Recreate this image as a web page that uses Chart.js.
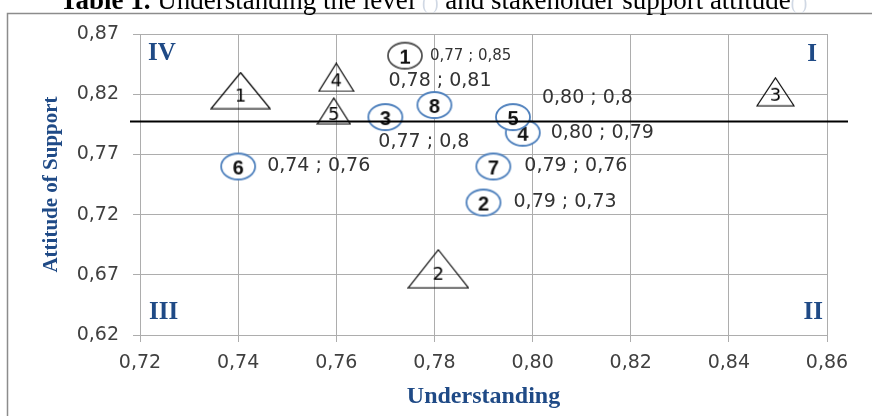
<!DOCTYPE html>
<html>
<head>
<meta charset="utf-8">
<script src="https://cdn.jsdelivr.net/npm/chart.js"></script>
<style>
body { margin: 0; background: #fff; }
#wrap { position: relative; width: 872px; height: 416px; }
</style>
</head>
<body>
<div id="wrap"><canvas id="chart1"></canvas></div>
<script>
// axis ticks
const xTickLabels = ['0,72', '0,74', '0,76', '0,78', '0,80', '0,82', '0,84', '0,86'];
const yTickLabels = ['0,62', '0,67', '0,72', '0,77', '0,82', '0,87'];

// circles (numbered 1..8)
const circleNums = ['1', '2', '3', '4', '5', '6', '7', '8'];
const circleX = [0.774, 0.790, 0.770, 0.798, 0.796, 0.740, 0.792, 0.780];
const circleY = [0.852, 0.730, 0.801, 0.788, 0.801, 0.760, 0.760, 0.811];
const circleLabels = ['0,77 ; 0,85', '0,79 ; 0,73', '0,77 ; 0,8', '0,80 ; 0,79', '0,80 ; 0,8', '0,74 ; 0,76', '0,79 ; 0,76', '0,78 ; 0,81'];

// triangles (numbered 1..5)
const triNums = ['1', '2', '3', '4', '5'];
const triX = [0.7405, 0.7808, 0.8495, 0.760, 0.7595];
const triY = [0.823, 0.675, 0.822, 0.834, 0.806];

// dividing line + quadrants
const threshold = 0.798;
const quadrants = ['I', 'II', 'III', 'IV'];

// styling (kept apart from the data)
const navy = '#1f4a86';
const triSizes = [[59, 36], [60, 38], [37, 28], [35, 28], [33, 26]];
const circleColors = ['#555555', '#4f81bd', '#4f81bd', '#4f81bd', '#4f81bd', '#4f81bd', '#4f81bd', '#4f81bd'];
const labelOffsets = [[25, 0], [30, 0], [-7, 25], [28, 0], [29, -19], [29, 0], [31, 0], [-46, -24]];
const labelSizes = [15, 19, 19, 19, 19, 19, 19, 19];

function makeTriangle(w, h, txt) {
    const c = document.createElement('canvas');
    c.width = w + 2; c.height = h + 2;
    const g = c.getContext('2d');
    g.beginPath();
    g.moveTo(w / 2 + 1, 1);
    g.lineTo(w + 1, h + 1);
    g.lineTo(1, h + 1);
    g.closePath();
    g.strokeStyle = '#000';
    g.lineWidth = 1.2;
    g.stroke();
    g.fillStyle = '#000';
    g.font = '18px "DejaVu Sans"';
    g.textAlign = 'center';
    g.textBaseline = 'middle';
    g.fillText(txt, w / 2 + 1, h / 2 + 1 + h * 0.17);
    return c;
}

function makeCircle(txt, color) {
    const c = document.createElement('canvas');
    c.width = 38; c.height = 30;
    const g = c.getContext('2d');
    g.beginPath();
    g.ellipse(19, 15, 17, 13, 0, 0, Math.PI * 2);
    g.fillStyle = '#fff';
    g.fill();
    g.strokeStyle = color;
    g.lineWidth = 1.8;
    g.stroke();
    g.fillStyle = '#111';
    g.font = 'bold 20px "Liberation Sans"';
    g.textAlign = 'center';
    g.textBaseline = 'middle';
    g.fillText(txt, 19, 17);
    return c;
}

const triData = [];
const triStyles = [];
for (let i = 0; i < triX.length; i++) {
    triData.push({x: triX[i], y: triY[i]});
    triStyles.push(makeTriangle(triSizes[i][0], triSizes[i][1], triNums[i]));
}
const circData = [];
const circStyles = [];
for (let i = 0; i < circleX.length; i++) {
    circData.push({x: circleX[i], y: circleY[i]});
    circStyles.push(makeCircle(circleNums[i], circleColors[i]));
}

// frame, title, dividing line and text overlays
const overlay = {
    id: 'overlay',
    beforeDraw(chart) {
        const ctx = chart.ctx;
        ctx.save();
        ctx.strokeStyle = '#8c8c8c';
        ctx.lineWidth = 1.5;
        ctx.strokeRect(7.5, 13.5, 900, 500);

        let x = 60;
        const y = 9;
        ctx.textBaseline = 'alphabetic';
        ctx.textAlign = 'left';
        const parts = [
            ['bold 27px "Liberation Serif"', '#000', 'Table 1.'],
            ['27px "Liberation Serif"', '#000', ' Understanding the level '],
            ['18px "Liberation Serif"', '#d0d8e4', '( )'],
            ['27px "Liberation Serif"', '#000', ' and stakeholder support attitude'],
            ['18px "Liberation Serif"', '#d0d8e4', '( )']
        ];
        parts.forEach(p => {
            ctx.font = p[0];
            ctx.fillStyle = p[1];
            ctx.fillText(p[2], x, y);
            x += ctx.measureText(p[2]).width;
        });
        ctx.restore();
    },
    afterDatasetsDraw(chart) {
        const ctx = chart.ctx;
        const a = chart.chartArea;
        const ys = chart.scales.y;
        ctx.save();
        // dividing line
        const ly = Math.round(ys.getPixelForValue(threshold)) + 0.5;
        ctx.strokeStyle = '#000';
        ctx.lineWidth = 2;
        ctx.beginPath();
        ctx.moveTo(a.left - 10, ly);
        ctx.lineTo(a.right + 21, ly);
        ctx.stroke();

        // quadrant numerals
        ctx.font = 'bold 25px "Liberation Serif"';
        ctx.fillStyle = navy;
        ctx.textBaseline = 'middle';
        ctx.textAlign = 'left';
        ctx.fillText(quadrants[3], a.left + 8, a.top + 20);
        ctx.fillText(quadrants[2], a.left + 9, a.bottom - 22);
        ctx.textAlign = 'right';
        ctx.fillText(quadrants[0], a.right - 10, a.top + 21);
        ctx.fillText(quadrants[1], a.right - 4, a.bottom - 22);

        // value labels next to the circles
        const meta = chart.getDatasetMeta(1);
        ctx.fillStyle = '#333';
        ctx.textAlign = 'left';
        meta.data.forEach((pt, i) => {
            ctx.font = labelSizes[i] + 'px "DejaVu Sans"';
            ctx.fillText(circleLabels[i], pt.x + labelOffsets[i][0], pt.y + labelOffsets[i][1]);
        });
        ctx.restore();
    }
};

var ctx1 = document.getElementById('chart1').getContext('2d');
var chart1 = new Chart(ctx1, {
    type: 'scatter',
    data: {
        datasets: [
            {
                label: 'triangles',
                data: triData,
                pointStyle: triStyles,
                pointRadius: 15
            },
            {
                label: 'circles',
                data: circData,
                pointStyle: circStyles,
                pointRadius: 15
            }
        ]
    },
    options: {
        responsive: true,
        maintainAspectRatio: false,
        animation: false,
        layout: { padding: { left: 8, right: 45, top: 34, bottom: 0 } },
        plugins: {
            legend: { display: false },
            tooltip: { enabled: false }
        },
        scales: {
            x: {
                type: 'linear',
                min: 0.72,
                max: 0.86,
                ticks: {
                    stepSize: 0.02,
                    padding: 10,
                    color: '#404040',
                    font: { family: 'DejaVu Sans', size: 19 },
                    callback: (v, i) => xTickLabels[i]
                },
                grid: { color: '#adadad', tickLength: 7 },
                border: { color: '#adadad' },
                title: {
                    display: true,
                    text: 'Understanding',
                    color: navy,
                    font: { family: 'Liberation Serif', size: 24, weight: 'bold' },
                    padding: { top: 0, bottom: 5 }
                },
                afterFit: s => { s.height = 81; }
            },
            y: {
                type: 'linear',
                min: 0.62,
                max: 0.87,
                ticks: {
                    stepSize: 0.05,
                    padding: 14,
                    color: '#404040',
                    font: { family: 'DejaVu Sans', size: 19 },
                    callback: (v, i) => yTickLabels[i]
                },
                grid: { color: '#adadad', tickLength: 7 },
                border: { color: '#adadad' },
                title: {
                    display: true,
                    text: 'Attitude of Support',
                    color: navy,
                    font: { family: 'Liberation Serif', size: 21, weight: 'bold' },
                    padding: { top: 31, bottom: 0 }
                },
                afterFit: s => { s.width = 132; }
            }
        }
    },
    plugins: [overlay]
});
</script>
</body>
</html>
